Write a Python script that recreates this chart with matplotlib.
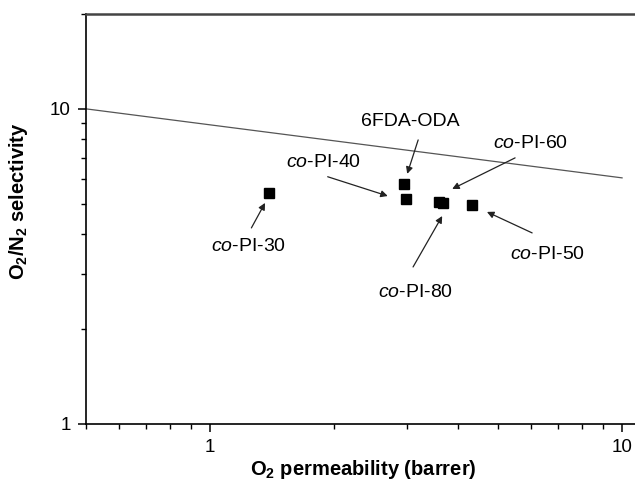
import matplotlib
matplotlib.use("Agg")
import matplotlib.pyplot as plt
from matplotlib.ticker import LogLocator, NullFormatter, FixedFormatter, FixedLocator

plt.rcParams["font.family"] = ["Liberation Sans", "DejaVu Sans"]
plt.rcParams["mathtext.fontset"] = "custom"
plt.rcParams["mathtext.rm"] = "Liberation Sans"
plt.rcParams["mathtext.it"] = "Liberation Sans:italic"
plt.rcParams["mathtext.bf"] = "Liberation Sans:bold"

# membranes: O2 permeability (barrer) and O2/N2 selectivity
names = ["6FDA-ODA", "co-PI-40", "co-PI-60", "co-PI-80", "co-PI-50", "co-PI-30"]
permeability = [2.95, 2.99, 3.60, 3.68, 4.33, 1.39]
selectivity = [5.77, 5.18, 5.08, 5.02, 4.96, 5.40]

# upper bound line
bound_x = [0.5, 10.0]
bound_y = [10.0, 6.04]

# label text centre, arrow tail, arrow head (data coords)
label_pos = {
    "6FDA-ODA": ((3.06, 9.09), (3.20, 7.97), (3.01, 6.22)),
    "co-PI-40": ((1.88, 6.74), (1.93, 6.09), (2.70, 5.29)),
    "co-PI-60": ((5.98, 7.74), (5.50, 6.99), (3.87, 5.57)),
    "co-PI-50": ((6.61, 3.44), (6.05, 4.04), (4.70, 4.71)),
    "co-PI-80": ((3.16, 2.62), (3.11, 3.15), (3.66, 4.57)),
    "co-PI-30": ((1.24, 3.65), (1.26, 4.19), (1.36, 5.03)),
}

W, H = 635, 487
fig = plt.figure(figsize=(W / 100, H / 100), dpi=100)
ax = fig.add_axes([86 / W, 63 / H, (W - 86) / W, 410 / H])

ax.plot(bound_x, bound_y, color="#555555", lw=0.9)
ax.plot(permeability, selectivity, "s", color="black", ms=6.5, ls="none")

for name, (txt, tail, head) in label_pos.items():
    if name.startswith("co-"):
        s = r"$\it{co}$" + name[2:]
    else:
        s = name
    ax.text(txt[0], txt[1], s, ha="center", va="center", fontsize=14)
    ax.annotate("", xy=head, xytext=tail,
                arrowprops=dict(arrowstyle="-|>", color="#222222", lw=0.9,
                                mutation_scale=10, shrinkA=0, shrinkB=0))

ax.set_xscale("log")
ax.set_yscale("log")
ax.set_xlim(0.5, 10.75)
ax.set_ylim(1, 20)

ax.xaxis.set_major_locator(FixedLocator([1, 10]))
ax.xaxis.set_major_formatter(FixedFormatter(["1", "10"]))
ax.xaxis.set_minor_locator(LogLocator(base=10, subs=range(2, 10)))
ax.xaxis.set_minor_formatter(NullFormatter())
ax.yaxis.set_major_locator(FixedLocator([1, 10]))
ax.yaxis.set_major_formatter(FixedFormatter(["1", "10"]))
ax.yaxis.set_minor_locator(LogLocator(base=10, subs=range(2, 10)))
ax.yaxis.set_minor_formatter(NullFormatter())

ax.tick_params(which="major", direction="out", length=6, width=1.1, labelsize=13.5,
               top=False, right=False, pad=5)
ax.tick_params(which="minor", direction="out", length=3.5, width=1.0,
               top=False, right=False)

ax.spines["right"].set_visible(False)
for side in ["left", "bottom"]:
    ax.spines[side].set_linewidth(1.2)
ax.spines["top"].set_linewidth(1.8)
ax.spines["top"].set_color("#444444")

ax.set_xlabel(r"O$_\mathbf{2}$ permeability (barrer)", fontsize=14.5, fontweight="bold")
ax.set_ylabel(r"O$_\mathbf{2}$/N$_\mathbf{2}$ selectivity", fontsize=14.5, fontweight="bold")
ax.xaxis.set_label_coords((363 - 86) / (W - 86), -(458 - 424) / 410)
ax.yaxis.set_label_coords(-(86 - 30) / (W - 86), (424 - 201) / 410)

fig.savefig("out.png", dpi=100)
